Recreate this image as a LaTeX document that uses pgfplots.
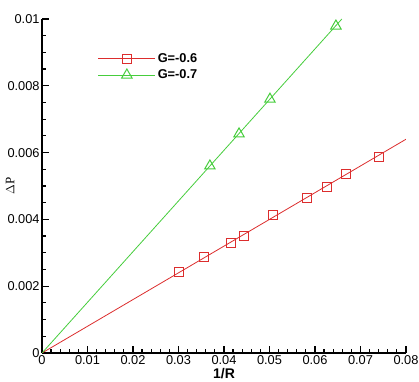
\documentclass[border=0pt]{standalone}
\usepackage{pgfplots}
\pgfplotsset{compat=1.18}
\usepackage{fontspec}
\setmainfont{Liberation Sans}
\newfontfamily\seriffont{Liberation Serif}
\definecolor{fitred}{RGB}{220,45,45}
\definecolor{fitgreen}{RGB}{70,205,60}

\pgfplotstableread{
x y
0.03018 0.002416
0.03567 0.002880
0.04154 0.003300
0.04440 0.003510
0.05084 0.004140
0.05818 0.004630
0.06257 0.004980
0.06675 0.005370
0.07407 0.005880
}\seriesA

\pgfplotstableread{
x y
0.0369 0.005600
0.0433 0.006560
0.0501 0.007600
0.0646 0.009790
}\seriesB

\begin{document}
\fontsize{12.8bp}{14bp}\selectfont
\begin{tikzpicture}
\useasboundingbox (-42bp,-29bp) rectangle (377bp,353bp);
\begin{axis}[
  at={(0,0)}, anchor=south west,
  scale only axis,
  width=364bp, height=334bp,
  xmin=0, xmax=0.08, ymin=0, ymax=0.01,
  axis x line*=bottom, axis y line*=left,
  axis line style={-, line width=1.6bp},
  xtick={0,0.01,...,0.08},
  ytick={0,0.002,...,0.01},
  minor x tick num=4,
  minor y tick num=3,
  tick align=inside,
  major tick length=7bp, minor tick length=4bp,
  every tick/.style={black, line width=1.2bp},
  scaled ticks=false,
  /pgf/number format/fixed,
  /pgf/number format/precision=3,
  /pgf/number format/assume math mode=true,
  tick label style={font=\fontsize{12.8bp}{14bp}\selectfont},
  yticklabel style={xshift=2bp},
  xticklabel style={yshift=1.5bp},
  xlabel={\bfseries 1/R},
  xlabel style={font=\fontsize{14bp}{15bp}\selectfont, yshift=5bp},
  ylabel={\seriffont $\Delta$P},
  ylabel style={font=\seriffont\fontsize{13bp}{14bp}\selectfont, yshift=-15.5bp},
  legend style={at={(rel axis cs:0.145,0.91)}, anchor=north west,
    draw=none, fill=none, font=\bfseries\fontsize{12.8bp}{14bp}\selectfont,
    row sep=1.5bp},
  legend cell align=left,
  legend image code/.code={
    \draw[#1, mark repeat=2, mark phase=2]
      plot coordinates {(0bp,0bp) (28.5bp,0bp) (57bp,0bp)};
  },
]
% legend entries: line with marker
\addlegendimage{fitred, line width=0.8bp, mark=square, mark size=4.6bp,
  mark options={line width=1bp}}
\addlegendentry{G=-0.6}
\addlegendimage{fitgreen, line width=0.8bp, mark=triangle, mark size=6bp,
  mark options={line width=1bp}}
\addlegendentry{G=-0.7}

% linear fits through the origin
\addplot[fitred, line width=0.8bp, forget plot] coordinates {(0,0) (0.08,0.0064)};
\addplot[fitgreen, line width=0.8bp, forget plot] coordinates {(0,0) (0.0659,0.01)};

% measured points
\addplot[only marks, fitred, mark=square, mark size=4.6bp,
  mark options={line width=1bp}, forget plot] table {\seriesA};
\addplot[only marks, fitgreen, mark=triangle, mark size=6bp,
  mark options={line width=1bp}, forget plot] table {\seriesB};
\end{axis}
\end{tikzpicture}
\end{document}
